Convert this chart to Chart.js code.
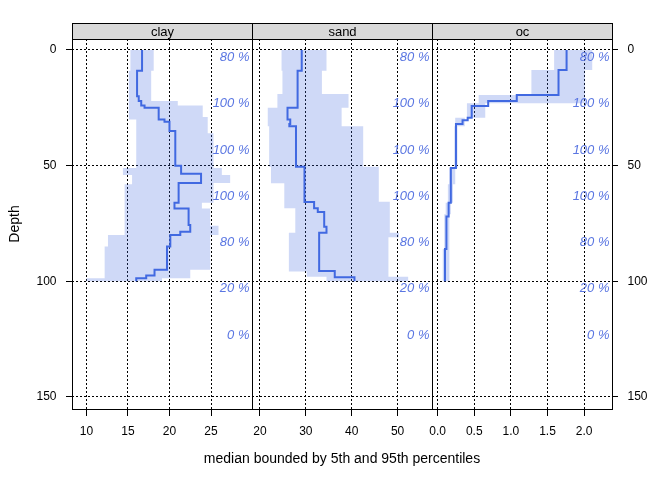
<!DOCTYPE html>
<html>
<head>
<meta charset="utf-8">
<title>Depth profiles: clay, sand, oc</title>
<script src="https://cdn.jsdelivr.net/npm/chart.js@4/dist/chart.umd.min.js"></script>
<style>
    html, body { margin: 0; padding: 0; background: #fff; }
    #wrap { width: 672px; height: 480px; }
</style>
</head>
<body>
<div id="wrap"><canvas id="profiles"></canvas></div>
<script>
// Each series: depth (cm) at the top of a step, and the value held down to the next step
const profileBottom = 100;

const clayMedTop = [0, 9, 20, 22, 24, 25, 30, 31, 35, 50, 53.5, 57.5, 66, 68.5, 75.7, 78.6, 80, 85, 95, 97.5, 98.7];
const clayMed    = [16.7, 16.1, 16.3, 16.6, 17.0, 18.7, 19.4, 20.0, 20.7, 21.4, 23.8, 21.1, 20.6, 22.3, 22.5, 21.3, 20.1, 19.7, 18.2, 17.2, 16.0];
const clayLoTop  = [0, 9, 30, 51, 54, 58, 80, 85, 98.7];
const clayLo     = [15.3, 15.1, 16.0, 14.4, 15.5, 14.6, 12.6, 12.2, 10.0];
const clayHiTop  = [0, 9, 22, 24, 29, 36, 51, 54, 57.5, 66, 68.5, 76, 80, 95, 98.7];
const clayHi     = [18.1, 17.8, 21.0, 24.0, 24.6, 25.3, 26.3, 27.3, 25.3, 23.9, 24.9, 25.9, 24.9, 22.5, 19.1];

const sandMedTop = [0, 9, 25, 30, 32, 33, 50.5, 65.7, 68.4, 70, 76.4, 79, 95.5, 98.2];
const sandMed    = [29.1, 28.2, 26.0, 26.6, 26.4, 27.85, 29.7, 31.8, 32.6, 34.0, 34.5, 32.9, 36.3, 40.6];
const sandLoTop  = [0, 9, 19, 25, 33, 50.5, 57.6, 68.4, 79, 95.8, 98];
const sandLo     = [24.7, 24.9, 23.8, 21.7, 22.0, 22.4, 25.3, 27.7, 26.3, 30.2, 34.5];
const sandHiTop  = [0, 9, 19, 25, 33, 50.5, 65.6, 79, 81, 98];
const sandHi     = [34.5, 33.5, 39.3, 37.8, 42.5, 45.9, 48.3, 50.3, 48.0, 52.3];

const ocMedTop = [0, 8.6, 19.5, 22.1, 24.2, 29.3, 30.4, 32, 51, 66, 72, 86];
const ocMed    = [1.76, 1.65, 1.08, 0.69, 0.465, 0.41, 0.34, 0.25, 0.18, 0.15, 0.12, 0.10];
const ocLoTop  = [0, 8.6, 19.5, 23, 29.3, 33, 51, 58, 66, 71, 86];
const ocLo     = [1.59, 1.28, 0.56, 0.40, 0.24, 0.23, 0.16, 0.14, 0.11, 0.09, 0.07];
const ocHiTop  = [0, 8.6, 23, 29.3, 33, 51, 58, 66, 71];
const ocHi     = [2.11, 2.01, 0.65, 0.37, 0.27, 0.24, 0.21, 0.18, 0.16];

// contributing fraction, labelled per 20 cm slab
const cfTop  = [0, 20, 40, 60, 80, 100, 120];
const cfText = ['80 %', '100 %', '100 %', '100 %', '80 %', '20 %', '0 %'];

const panelNames = ['clay', 'sand', 'oc'];
const clayTicks  = [10, 15, 20, 25];
const sandTicks  = [20, 30, 40, 50];
const ocTicks    = [0, 0.5, 1.0, 1.5, 2.0];
const depthTicks = [0, 50, 100, 150];
const xTitle = 'median bounded by 5th and 95th percentiles';

const FONT = '"Liberation Sans", Arial, sans-serif';
const LINE_COL = '#4169e1';
const BAND_COL = 'rgba(65, 105, 225, 0.25)';
const CF_COL = '#5a76e2';

Chart.defaults.font.family = FONT;
Chart.defaults.color = '#000';

// turn step tops + values into the vertices of a stepped profile
function steps(tops, vals) {
    const pts = [];
    tops.forEach((t, i) => {
        const next = i < tops.length - 1 ? tops[i + 1] : profileBottom;
        pts.push({x: vals[i], y: t});
        pts.push({x: vals[i], y: next});
    });
    return pts;
}

function band(loTop, lo, hiTop, hi) {
    return steps(loTop, lo).concat(steps(hiTop, hi).reverse());
}

function bandSet(axis, pts) {
    return {
        data: pts, xAxisID: axis, yAxisID: 'y', showLine: true, fill: 'shape',
        backgroundColor: BAND_COL, borderWidth: 0, pointRadius: 0, order: 2
    };
}

function medianSet(axis, pts) {
    return {
        data: pts, xAxisID: axis, yAxisID: 'y', showLine: true, fill: false,
        borderColor: LINE_COL, borderWidth: 2, pointRadius: 0, order: 1
    };
}

function fixTicks(values) {
    return function(scale) {
        scale.ticks = values.map(v => ({value: v}));
    };
}

function xAxis(min, max, ticks, digits) {
    return {
        type: 'linear', position: 'bottom', stack: 'panels', stackWeight: 1,
        min: min, max: max,
        afterBuildTicks: fixTicks(ticks),
        afterFit: function(scale) { scale.height = 71; },
        grid: { color: '#000', lineWidth: 1, tickLength: 7, tickColor: '#000', tickBorderDash: [] },
        border: { display: false, dash: [2, 2] },
        ticks: {
            font: { size: 12 }, color: '#000', padding: 8.5, autoSkip: false, maxRotation: 0,
            callback: v => v.toFixed(digits)
        }
    };
}

function yAxis(position, width, withGrid, title) {
    return {
        type: 'linear', position: position, reverse: true,
        min: -4.75, max: 155.2,
        afterBuildTicks: fixTicks(depthTicks),
        afterFit: function(scale) { scale.width = width; },
        grid: {
            drawOnChartArea: withGrid, color: '#000', lineWidth: 1,
            tickLength: 6, tickColor: '#000', tickBorderDash: []
        },
        border: { display: false, dash: [2, 2] },
        ticks: { font: { size: 12 }, color: '#000', padding: 9.5 },
        title: title ? {
            display: true, text: title, font: { size: 14 }, color: '#000',
            padding: { top: 6.6, bottom: 0 }
        } : { display: false }
    };
}

// strips, panel boxes, contributing fraction labels and the shared x title
const panelDecor = {
    id: 'panelDecor',
    afterDatasetsDraw(chart) {
        const {ctx, chartArea, scales} = chart;
        const yScale = scales.y;
        const stripTop = Math.round(chartArea.top) - 16 + 0.5;
        const top = Math.round(chartArea.top) + 0.5;
        const bottom = Math.round(chartArea.bottom) + 0.5;
        ctx.save();
        ['xClay', 'xSand', 'xOc'].forEach((id, i) => {
            const sc = scales[id];
            const l = Math.round(sc.left) + 0.5;
            const r = Math.round(sc.right) + 0.5;

            ctx.font = 'italic 13px ' + FONT;
            ctx.fillStyle = CF_COL;
            ctx.textAlign = 'right';
            ctx.textBaseline = 'top';
            cfTop.forEach((d, k) => {
                ctx.fillText(cfText[k], sc.right - 2.5, yScale.getPixelForValue(d) + 1);
            });

            ctx.fillStyle = '#d9d9d9';
            ctx.fillRect(l, stripTop, r - l, top - stripTop);
            ctx.strokeStyle = '#000';
            ctx.lineWidth = 1;
            ctx.strokeRect(l, stripTop, r - l, top - stripTop);
            ctx.strokeRect(l, top, r - l, bottom - top);

            ctx.fillStyle = '#000';
            ctx.font = '13px ' + FONT;
            ctx.textAlign = 'center';
            ctx.textBaseline = 'middle';
            ctx.fillText(panelNames[i], (l + r) / 2, (stripTop + top) / 2 + 0.5);
        });

        ctx.fillStyle = '#000';
        ctx.font = '14px ' + FONT;
        ctx.textAlign = 'center';
        ctx.textBaseline = 'middle';
        ctx.fillText(xTitle, (chartArea.left + chartArea.right) / 2, chartArea.bottom + 50);
        ctx.restore();
    }
};

new Chart(document.getElementById('profiles'), {
    type: 'scatter',
    data: {
        datasets: [
            medianSet('xClay', steps(clayMedTop, clayMed)),
            medianSet('xSand', steps(sandMedTop, sandMed)),
            medianSet('xOc', steps(ocMedTop, ocMed)),
            bandSet('xClay', band(clayLoTop, clayLo, clayHiTop, clayHi)),
            bandSet('xSand', band(sandLoTop, sandLo, sandHiTop, sandHi)),
            bandSet('xOc', band(ocLoTop, ocLo, ocHiTop, ocHi))
        ]
    },
    options: {
        responsive: true,
        maintainAspectRatio: false,
        animation: false,
        events: [],
        layout: { padding: { top: 39, left: 0, right: 0, bottom: 0 } },
        plugins: {
            legend: { display: false },
            tooltip: { enabled: false }
        },
        scales: {
            xClay: xAxis(8.27, 29.93, clayTicks, 0),
            xSand: xAxis(18.26, 57.5, sandTicks, 0),
            xOc: xAxis(-0.077, 2.38, ocTicks, 1),
            y: yAxis('left', 72, true, 'Depth'),
            y2: yAxis('right', 60, false, null)
        }
    },
    plugins: [panelDecor]
});
</script>
</body>
</html>
